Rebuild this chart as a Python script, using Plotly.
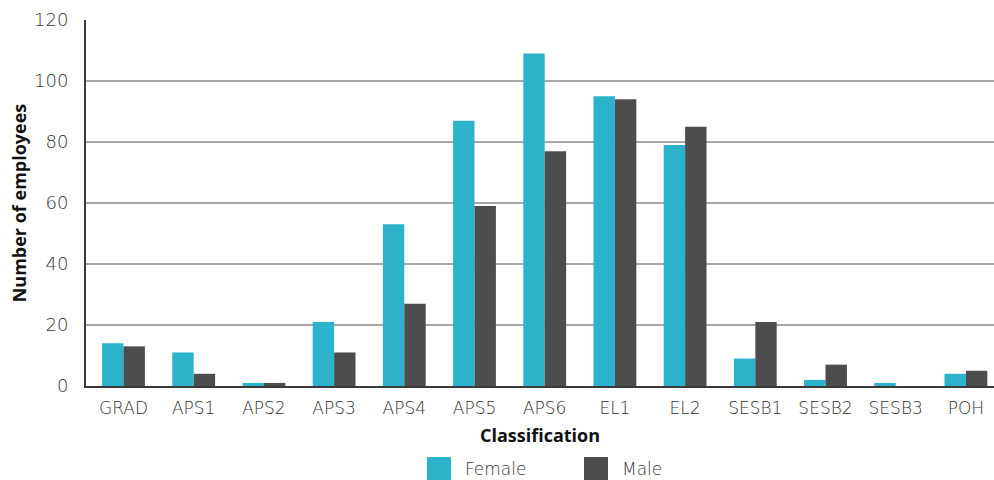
import plotly.graph_objects as go

# Staff headcount by classification and gender
classifications = ["GRAD", "APS1", "APS2", "APS3", "APS4", "APS5", "APS6",
                   "EL1", "EL2", "SESB1", "SESB2", "SESB3", "POH"]
female = [14, 11, 1, 21, 53, 87, 109, 95, 79, 9, 2, 1, 4]
male = [13, 4, 1, 11, 27, 59, 77, 94, 85, 21, 7, 0, 5]

FEMALE_COLOR = "#2cb2cb"
MALE_COLOR = "#4d4d4f"
TICK_FONT = dict(family="DejaVu Sans", size=17, color="#333333", weight=200)
TITLE_FONT = dict(family="Open Sans", size=18, color="#111", weight=700)

fig = go.Figure()
fig.add_trace(go.Bar(name="Female", x=classifications, y=female,
                     marker=dict(color=FEMALE_COLOR, line=dict(width=0))))
fig.add_trace(go.Bar(name="Male", x=classifications, y=male,
                     marker=dict(color=MALE_COLOR, line=dict(width=0))))

fig.update_layout(
    width=994, height=480,
    margin=dict(l=86, r=0, t=20, b=94),
    paper_bgcolor="white", plot_bgcolor="white",
    barmode="group", bargap=0.39, bargroupgap=0,
    showlegend=False,
    font=TICK_FONT,
)

fig.update_xaxes(
    type="category", range=[-0.534, 12.40],
    showline=True, linecolor="#3a3a3a", linewidth=2,
    showgrid=False, ticks="", tickfont=TICK_FONT, ticklabelstandoff=6,
    title=dict(text="Classification", font=TITLE_FONT, standoff=12),
)
fig.update_yaxes(
    range=[0, 120], dtick=20,
    showline=True, linecolor="#3a3a3a", linewidth=2,
    showgrid=True, gridcolor="#a8a8a8", gridwidth=2,
    zeroline=False, ticks="", ticklabelstandoff=12,
    tickfont=dict(TICK_FONT, size=18),
    title=dict(text="Number of employees", font=TITLE_FONT, standoff=3),
)

# Legend drawn below the axis title with large square swatches
legend_items = [("Female", FEMALE_COLOR, 427), ("Male", MALE_COLOR, 584)]
plot_w = 994 - 86
for label, color, px in legend_items:
    x0 = (px - 86) / plot_w
    x1 = (px + 24 - 86) / plot_w
    fig.add_shape(type="rect", xref="paper", yref="paper",
                  x0=x0, x1=x1, y0=(386 - 480) / 366, y1=(386 - 457) / 366,
                  fillcolor=color, line=dict(width=0))
    fig.add_annotation(xref="paper", yref="paper",
                       x=(px + 36 - 86) / plot_w, y=(386 - 469) / 366,
                       text=label, showarrow=False, xanchor="left", yanchor="middle",
                       font=TICK_FONT)

fig.write_html("out.html")
